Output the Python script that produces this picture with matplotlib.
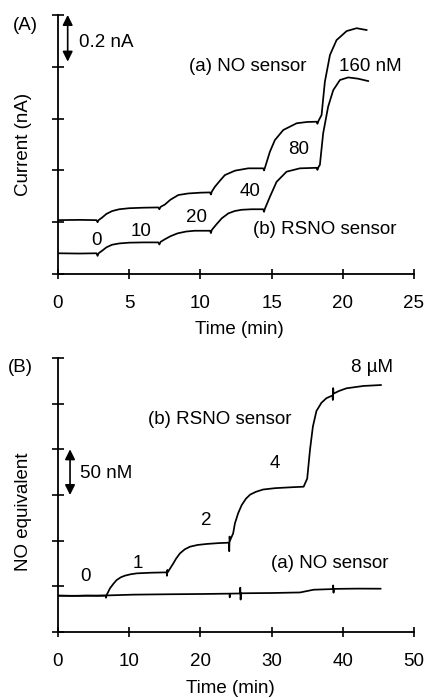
import matplotlib
matplotlib.use('Agg')
from matplotlib import pyplot as plt

plt.rcParams['font.family'] = ['Liberation Sans', 'DejaVu Sans']
plt.rcParams['font.size'] = 13.5

# ---- panel A: current traces (nA) vs time (min) ----
time_a_no = [0, 1.5, 2.7, 2.78, 2.85, 3.1, 3.4, 3.8, 4.3, 5.0, 6.0, 7.04, 7.12, 7.2,
             7.5, 7.9, 8.45, 9.15, 10.0, 10.67, 10.74, 10.8, 11.02, 11.4, 11.72, 12.43,
             13.36, 14.41, 14.47, 14.53, 14.88, 15.23, 15.82, 16.76, 17.5, 18.16, 18.22,
             18.3, 18.51, 18.74, 19.1, 19.56, 20.27, 20.97, 21.67]
curr_a_no = [0.208, 0.209, 0.208, 0.200, 0.208, 0.218, 0.232, 0.243, 0.250, 0.254, 0.256,
             0.257, 0.250, 0.259, 0.268, 0.287, 0.305, 0.311, 0.314, 0.315, 0.307, 0.318,
             0.337, 0.362, 0.382, 0.399, 0.408, 0.408, 0.400, 0.410, 0.472, 0.517, 0.556,
             0.582, 0.587, 0.588, 0.580, 0.592, 0.614, 0.742, 0.846, 0.903, 0.938, 0.949,
             0.942]

time_a_rsno = [0, 1.5, 2.7, 2.78, 2.85, 3.1, 3.4, 3.8, 4.3, 5.0, 6.0, 7.04, 7.12, 7.2,
               7.5, 7.9, 8.4, 9.0, 9.6, 10.67, 10.74, 10.8, 11.1, 11.5, 11.96, 12.4, 12.9,
               13.6, 14.41, 14.47, 14.53, 14.88, 15.35, 16.05, 16.99, 18.16, 18.22, 18.3,
               18.39, 18.62, 18.97, 19.33, 19.8, 20.38, 21.08, 21.78]
curr_a_rsno = [0.080, 0.079, 0.080, 0.070, 0.080, 0.090, 0.103, 0.113, 0.118, 0.121, 0.122,
               0.122, 0.114, 0.124, 0.134, 0.146, 0.157, 0.164, 0.167, 0.167, 0.158, 0.170,
               0.190, 0.215, 0.234, 0.243, 0.248, 0.250, 0.250, 0.240, 0.252, 0.298, 0.356,
               0.395, 0.408, 0.410, 0.402, 0.414, 0.421, 0.543, 0.646, 0.710, 0.749, 0.759,
               0.754, 0.745]

# ---- panel B: NO equivalent (nM) vs time (min) ----
time_b_no = [0, 3, 6.7, 10.6, 15.3, 20, 24.1, 24.12, 24.15, 25.55, 25.6, 25.65, 25.7,
             30, 34, 35.9, 38.6, 38.65, 38.7, 38.75, 42, 45.3]
conc_b_no = [39.8, 39.6, 40.0, 40.9, 41.3, 41.6, 42.0, 38.0, 42.0, 42.2, 48.5, 35.5, 42.4,
             42.7, 43.3, 46.3, 47.0, 51.0, 43.0, 47.2, 47.5, 47.4]

time_b_rsno = [0, 2, 4, 5.5, 6.7, 6.75, 6.8, 7.3, 7.8, 8.24, 8.8, 9.4, 10.2, 11.05, 13,
               15.26, 15.3, 15.36, 15.42, 15.7, 16.2, 16.6, 17.13, 17.8, 18.53, 19.6, 20.88,
               22.5, 24.0, 24.05, 24.1, 24.15, 24.6, 24.85, 25.3, 25.8, 26.4, 27.0, 27.8,
               28.8, 30.5, 32.6, 34.5, 35.0, 35.4, 35.8, 36.3, 37.0, 37.7, 38.55, 38.6,
               38.65, 38.7, 39.5, 40.5, 42.9, 45.35]
conc_b_rsno = [39.8, 39.5, 39.9, 39.6, 39.8, 37.5, 40.0, 47.8, 53.0, 56.9, 59.8, 61.7, 63.2,
               64.2, 64.9, 65.3, 61.5, 68.0, 65.5, 69.0, 75.2, 80.5, 86.1, 90.5, 93.4, 95.3,
               96.4, 97.3, 97.8, 88.5, 104.5, 100.0, 108.0, 119.0, 130.0, 139.0, 146.0,
               150.5, 153.5, 156.0, 157.5, 158.4, 159.1, 168.0, 200.0, 225.0, 242.0, 251.0,
               256.0, 259.0, 254.0, 267.0, 261.0, 264.0, 266.8, 269.4, 270.4]

ticks_a = [0, 5, 10, 15, 20, 25]
ticks_b = [0, 10, 20, 30, 40, 50]

W, H = 428, 698


def style_axes(ax, xlim, ylim, xticks, ystep):
    """Only left/bottom spines, crossing ticks, no y tick labels."""
    ax.spines['top'].set_visible(False)
    ax.spines['right'].set_visible(False)
    ax.spines['left'].set_linewidth(1.3)
    ax.spines['bottom'].set_linewidth(1.3)
    ax.set_xlim(*xlim)
    ax.set_ylim(*ylim)
    ax.set_xticks(xticks)
    yt = []
    v = ylim[0]
    while v <= ylim[1] + 1e-9:
        yt.append(v)
        v += ystep
    ax.set_yticks(yt)
    ax.set_yticklabels([])
    ax.tick_params(axis='y', direction='inout', length=9, width=1.2)
    ax.tick_params(axis='x', direction='inout', length=7, width=1.2, pad=11.5, labelsize=13.5)
    for s in ax.spines.values():
        s.set_clip_on(False)


def px_axes(left, top, right, bottom):
    return [left / W, 1 - bottom / H, (right - left) / W, (bottom - top) / H]


fig = plt.figure(figsize=(W / 100, H / 100), dpi=100)

# panel A
ax1 = fig.add_axes(px_axes(58, 15, 414, 274))
ax1.plot(time_a_no, curr_a_no, color='black', lw=1.25)
ax1.plot(time_a_rsno, curr_a_rsno, color='black', lw=1.25)
style_axes(ax1, (0, 25), (0, 1.0), ticks_a, 0.2)
ax1.set_ylabel('Current (nA)')
ax1.yaxis.set_label_coords(-0.072, 0.5)
ax1.set_xlabel('Time (min)')
ax1.xaxis.set_label_coords(0.51, -0.18)
ax1.annotate('', xy=(0.68, 1.0), xytext=(0.68, 0.82),
             arrowprops=dict(arrowstyle='<|-|>', color='black', lw=1.2, mutation_scale=15,
                             shrinkA=0, shrinkB=0))
ax1.text(1.47, 0.892, '0.2 nA', ha='left', va='center')
ax1.text(13.34, 0.80, '(a) NO sensor', ha='center', va='center')
ax1.text(21.9, 0.80, '160 nM', ha='center', va='center')
ax1.text(16.9, 0.479, '80', ha='center', va='center')
ax1.text(13.5, 0.317, '40', ha='center', va='center')
ax1.text(9.76, 0.22, '20', ha='center', va='center')
ax1.text(5.83, 0.166, '10', ha='center', va='center')
ax1.text(2.67, 0.131, '0', ha='center', va='center')
ax1.text(18.75, 0.17, '(b) RSNO sensor', ha='center', va='center')
fig.text(25 / W, 1 - 25 / H, '(A)', ha='center', va='center')

# panel B
ax2 = fig.add_axes(px_axes(58, 358, 414, 632))
ax2.plot(time_b_no, conc_b_no, color='black', lw=1.25)
ax2.plot(time_b_rsno, conc_b_rsno, color='black', lw=1.25)
style_axes(ax2, (0, 50), (0, 300), ticks_b, 50)
ax2.set_ylabel('NO equivalent')
ax2.yaxis.set_label_coords(-0.072, 0.44)
ax2.set_xlabel('Time (min)')
ax2.xaxis.set_label_coords(0.485, -0.175)
ax2.annotate('', xy=(1.69, 200), xytext=(1.69, 150),
             arrowprops=dict(arrowstyle='<|-|>', color='black', lw=1.2, mutation_scale=15,
                             shrinkA=0, shrinkB=0))
ax2.text(3.1, 174, '50 nM', ha='left', va='center')
ax2.text(44.1, 290, '8 µM', ha='center', va='center')
ax2.text(22.7, 233, '(b) RSNO sensor', ha='center', va='center')
ax2.text(30.5, 184, '4', ha='center', va='center')
ax2.text(20.8, 122.6, '2', ha='center', va='center')
ax2.text(11.2, 74.5, '1', ha='center', va='center')
ax2.text(3.9, 61.3, '0', ha='center', va='center')
ax2.text(38.2, 75.5, '(a) NO sensor', ha='center', va='center')
fig.text(20 / W, 1 - 368 / H, '(B)', ha='center', va='center')

fig.savefig('out.png', dpi=100)
